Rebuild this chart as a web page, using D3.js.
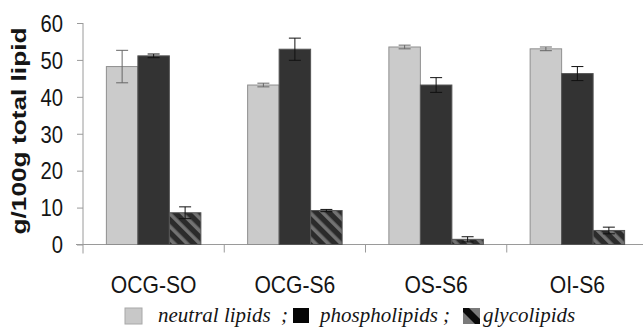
<!DOCTYPE html>
<html>
<head>
<meta charset="utf-8">
<script src="https://cdn.jsdelivr.net/npm/d3@7"></script>
<style>
  html, body { margin: 0; padding: 0; background: #fff; }
  svg { display: block; }
  .sans { font-family: "Liberation Sans", Arial, sans-serif; fill: #151515; }
</style>
</head>
<body>
<div id="chart"></div>
<script>
const categories = ["OCG-SO", "OCG-S6", "OS-S6", "OI-S6"];
const seriesNames = ["neutral lipids", "phospholipids", "glycolipids"];
const neutralLipids = [48.2, 43.2, 53.5, 53.0];
const phospholipids = [51.1, 52.9, 43.2, 46.3];
const glycolipids = [8.6, 9.2, 1.4, 3.8];
const neutralErr = [4.4, 0.5, 0.5, 0.5];
const phosphoErr = [0.5, 3.0, 2.0, 1.9];
const glycoErr = [1.6, 0.3, 0.7, 0.9];
const yTicks = [0, 10, 20, 30, 40, 50, 60];

(function () {
  const width = 643, height = 331;
  const squeeze = 0.88;
  const serifFont = "'Liberation Serif', 'Times New Roman', Times, 'DejaVu Serif', serif";
  const values = [neutralLipids, phospholipids, glycolipids];
  const errors = [neutralErr, phosphoErr, glycoErr];

  const svg = d3.select("#chart").append("svg")
    .attr("width", width)
    .attr("height", height);

  const defs = svg.append("defs");
  const hatch = defs.append("pattern")
    .attr("id", "hatch")
    .attr("patternUnits", "userSpaceOnUse")
    .attr("width", 9)
    .attr("height", 9)
    .attr("patternTransform", "rotate(-45)");
  hatch.append("rect").attr("width", 9).attr("height", 9).attr("fill", "#2b2b2b");
  hatch.append("rect").attr("width", 3.6).attr("height", 9).attr("fill", "#727272");

  const fills = ["#cbcbcb", "#333333", "url(#hatch)"];
  const strokes = ["#8f8f8f", "#555555", "#555555"];

  const x0 = d3.scaleBand()
    .domain(categories)
    .range([83, 648])
    .paddingInner(0.331)
    .paddingOuter(0.1655);

  const x1 = d3.scaleBand()
    .domain(seriesNames)
    .range([0, x0.bandwidth()]);

  const y = d3.scaleLinear().domain([0, 60]).range([244.5, 23]);

  // y axis
  const yAxis = svg.append("g")
    .attr("transform", "translate(83,0)")
    .call(d3.axisLeft(y).tickValues(yTicks).tickSize(6).tickSizeOuter(0));
  yAxis.attr("font-family", null).attr("font-size", null);
  yAxis.select(".domain").remove();
  yAxis.selectAll(".tick line").attr("stroke", "#9a9a9a");
  yAxis.selectAll(".tick text")
    .attr("class", "sans")
    .style("font-size", "23px")
    .attr("fill", "#151515")
    .attr("x", null)
    .attr("dy", "0.36em")
    .attr("text-anchor", "end")
    .attr("transform", `translate(-20,0) scale(${squeeze},1)`);
  svg.append("line")
    .attr("x1", 83).attr("x2", 83)
    .attr("y1", y(60)).attr("y2", y(0) + 9)
    .attr("stroke", "#9a9a9a");

  // x axis
  svg.append("line")
    .attr("x1", 76).attr("x2", width)
    .attr("y1", y(0)).attr("y2", y(0))
    .attr("stroke", "#9a9a9a");
  categories.slice(1).forEach((c) => {
    const bx = x0(c) + x0.bandwidth() / 2 - x0.step() / 2;
    svg.append("line")
      .attr("x1", bx).attr("x2", bx)
      .attr("y1", y(0)).attr("y2", y(0) + 8)
      .attr("stroke", "#9a9a9a");
  });

  // bars
  categories.forEach((c, ci) => {
    const g = svg.append("g").attr("transform", `translate(${x0(c)},0)`);
    seriesNames.forEach((s, si) => {
      const v = values[si][ci];
      g.append("rect")
        .attr("x", x1(s))
        .attr("y", y(v))
        .attr("width", x1.bandwidth())
        .attr("height", y(0) - y(v))
        .attr("fill", fills[si])
        .attr("stroke", strokes[si])
        .attr("stroke-width", 1);
    });
    seriesNames.forEach((s, si) => {
      const v = values[si][ci];
      const e = errors[si][ci];
      const cx = x1(s) + x1.bandwidth() / 2;
      const col = si === 0 ? "#666" : "#111";
      g.append("line")
        .attr("x1", cx).attr("x2", cx)
        .attr("y1", y(v + e)).attr("y2", y(v - e))
        .attr("stroke", col);
      [v + e, v - e].forEach((t) => {
        g.append("line")
          .attr("x1", cx - 6).attr("x2", cx + 6)
          .attr("y1", y(t)).attr("y2", y(t))
          .attr("stroke", col);
      });
    });
    g.append("text")
      .attr("class", "sans")
      .style("font-size", "24px")
      .attr("text-anchor", "middle")
      .attr("transform", `translate(${x0.bandwidth() / 2},293) scale(${squeeze},1)`)
      .text(c);
  });

  // y label
  svg.append("text")
    .attr("class", "sans")
    .style("font-size", "23px")
    .attr("font-weight", "bold")
    .attr("text-anchor", "middle")
    .attr("transform", `translate(26,131) rotate(-90) scale(1,${squeeze})`)
    .attr("textLength", 207)
    .attr("lengthAdjust", "spacingAndGlyphs")
    .text("g/100g total lipid");

  // legend
  const legend = svg.append("g");
  const iconX = [125, 293, 463];
  const textX = [158, 320, 483];
  legend.append("rect").attr("x", iconX[0]).attr("y", 308).attr("width", 17).attr("height", 16)
    .attr("fill", "#c8c8c8").attr("stroke", "#a8a8a8");
  legend.append("rect").attr("x", iconX[1]).attr("y", 308).attr("width", 16).attr("height", 15)
    .attr("fill", "#050505");
  legend.append("rect").attr("x", iconX[2]).attr("y", 308).attr("width", 17).attr("height", 16)
    .attr("fill", "#7a7a7a");
  legend.append("path")
    .attr("d", `M${iconX[2]},308 L${iconX[2] + 6},308 L${iconX[2] + 17},319 L${iconX[2] + 17},324 L${iconX[2] + 12},324 L${iconX[2]},312 Z`)
    .attr("fill", "#0a0a0a");
  const legendText = (x, str) => legend.append("text")
    .style("font-family", serifFont)
    .style("font-style", "italic")
    .style("font-size", "21px")
    .attr("fill", "#151515")
    .attr("x", x)
    .attr("y", 322)
    .text(str);
  seriesNames.forEach((s, i) => legendText(textX[i], s));
  legendText(281, ";");
  legendText(443, ";");
})();
</script>
</body>
</html>
